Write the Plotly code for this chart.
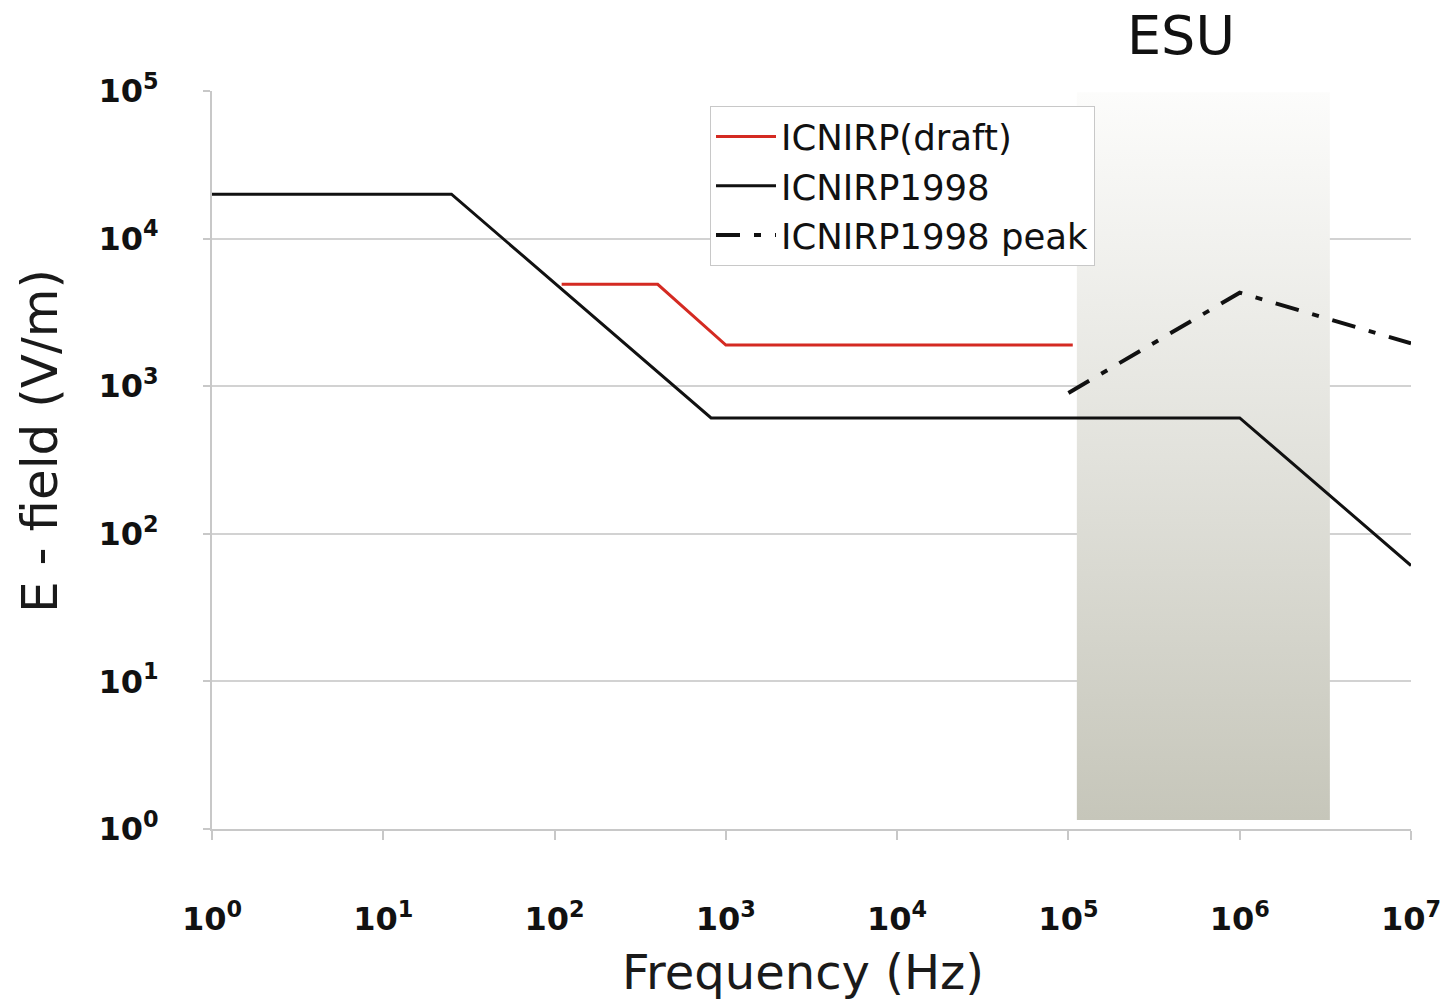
import plotly.graph_objects as go

# Reference levels (E-field in V/m vs frequency in Hz)
draft_f = [110, 400, 1000, 1.06e5]
draft_e = [4900, 4900, 1900, 1900]

icnirp98_f = [1, 25, 820, 1e6, 1e7]
icnirp98_e = [20000, 20000, 610, 610, 61]

peak_f = [1e5, 1e6, 1e7]
peak_e = [900, 4300, 1950]

# ESU operating band (shaded)
esu_f = [1.12e5, 3.36e6]
esu_e = [1.15, 9.8e4]

tick_vals = [1, 10, 100, 1e3, 1e4, 1e5, 1e6, 1e7]
x_tick_text = ["10<sup>%d</sup>" % i for i in range(8)]
y_tick_vals = [1, 10, 100, 1e3, 1e4, 1e5]
y_tick_text = ["10<sup>%d</sup>" % i for i in range(6)]

L, R, T, B = 212, 37, 91, 172
PW, PH = 1448 - L - R, 1001 - T - B

fig = go.Figure()

# shaded band with vertical gradient
fig.add_trace(go.Scatter(
    x=[esu_f[0], esu_f[1], esu_f[1], esu_f[0], esu_f[0]],
    y=[esu_e[0], esu_e[0], esu_e[1], esu_e[1], esu_e[0]],
    mode="lines", line=dict(width=0), fill="toself",
    fillgradient=dict(type="vertical",
                      colorscale=[[0, "#c6c6ba"], [0.5, "#e2e2dc"], [1, "#fcfcfb"]]),
    showlegend=False, hoverinfo="skip",
))

fig.add_trace(go.Scatter(x=draft_f, y=draft_e, mode="lines", name="ICNIRP(draft)",
                         line=dict(color="#d42a22", width=3)))
fig.add_trace(go.Scatter(x=icnirp98_f, y=icnirp98_e, mode="lines", name="ICNIRP1998",
                         line=dict(color="#111111", width=3)))
fig.add_trace(go.Scatter(x=peak_f, y=peak_e, mode="lines", name="ICNIRP1998 peak",
                         line=dict(color="#111111", width=4, dash="24px,14px,7px,14px")))

tick_font = dict(family="DejaVu Sans", size=32, color="#111111", weight="bold")

fig.update_xaxes(
    type="log", range=[0, 7], tickvals=tick_vals, ticktext=x_tick_text,
    tickfont=tick_font, ticks="outside", ticklen=9, tickcolor="#c8c8c8", tickwidth=2,
    showgrid=False, showline=True, linecolor="#c8c8c8", linewidth=2, zeroline=False,
    ticklabelstandoff=52, automargin=False,
)
fig.update_yaxes(
    type="log", range=[0, 5], tickvals=y_tick_vals, ticktext=y_tick_text,
    tickfont=tick_font, ticks="outside", ticklen=7, tickcolor="#c8c8c8", tickwidth=2,
    showgrid=True, gridcolor="#d2d2d2", gridwidth=1.5,
    showline=True, linecolor="#c8c8c8", linewidth=2, zeroline=False,
    ticklabelstandoff=38, automargin=False,
)

# axis titles
fig.add_annotation(text="E - field (V/m)", xref="paper", yref="paper",
                   x=(40 - L) / PW, y=(1001 - B - 441) / PH, textangle=-90,
                   xanchor="center", yanchor="middle", showarrow=False,
                   font=dict(family="DejaVu Sans", size=50, color="#1a1a1a"))
fig.add_annotation(text="Frequency (Hz)", xref="paper", yref="paper",
                   x=(803 - L) / PW, y=(1001 - B - 972) / PH,
                   xanchor="center", yanchor="middle", showarrow=False,
                   font=dict(family="DejaVu Sans", size=48, color="#1a1a1a"))

fig.add_annotation(text="ESU", xref="paper", yref="paper", x=(1181 - L) / PW, y=1.0,
                   yanchor="bottom", xanchor="center", yshift=22, showarrow=False,
                   font=dict(family="DejaVu Sans", size=54, color="#111111"))

fig.update_layout(
    width=1448, height=1001,
    margin=dict(l=L, r=R, t=T, b=B, autoexpand=False),
    paper_bgcolor="white", plot_bgcolor="white",
    font=dict(family="DejaVu Sans"),
    legend=dict(x=(710 - L) / PW, y=(1001 - B - 106) / PH, xanchor="left", yanchor="top",
                bgcolor="white", bordercolor="#c8c8c8", borderwidth=1,
                font=dict(family="DejaVu Sans", size=35.5, color="#111111"),
                itemwidth=60),
)

fig.write_html("out.html")
